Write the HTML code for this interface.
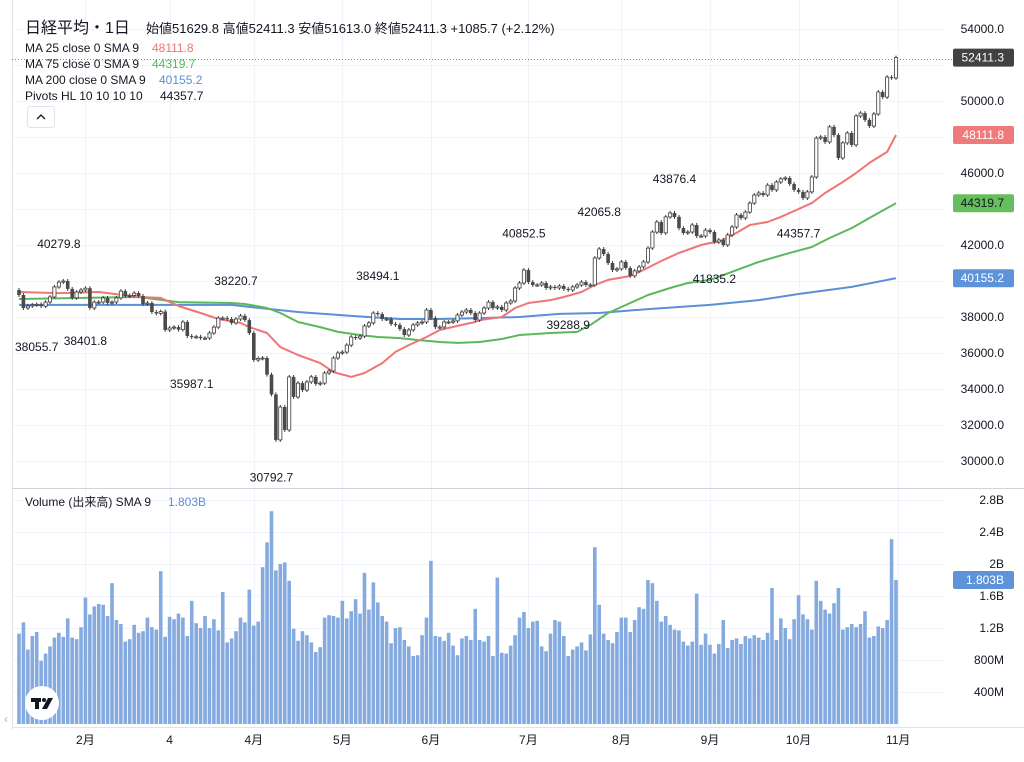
<!DOCTYPE html>
<html><head><meta charset="utf-8"><style>
html,body{margin:0;padding:0;background:#fff;}
body{width:1024px;height:757px;overflow:hidden;font-family:"Liberation Sans","Noto Sans CJK JP",sans-serif;}
svg text{font-family:"Liberation Sans","Noto Sans CJK JP",sans-serif;}
</style></head><body>
<svg id="chart" width="1024" height="757" viewBox="0 0 1024 757" xmlns="http://www.w3.org/2000/svg">
<rect x="0" y="0" width="1024" height="757" fill="#fff"/>
<line x1="12.5" y1="0" x2="12.5" y2="730" stroke="#e0e3eb"/>
<g id="grid"></g>
<line x1="12" y1="488.5" x2="1024" y2="488.5" stroke="#d1d4dc"/>
<line x1="12" y1="727.5" x2="1024" y2="727.5" stroke="#e0e3eb"/>
<g id="vol"></g>
<g id="ma"></g>
<g id="candles"></g>
<g id="pivots" font-size="12" fill="#131722"></g>
<line x1="12" y1="59.5" x2="953" y2="59.5" stroke="#888" stroke-dasharray="1,2"/>
<g id="axis" font-size="12" fill="#131722"></g>
<g id="vaxis" font-size="12" fill="#131722"></g>
<g id="xaxis" font-size="12" fill="#131722"></g>
<g id="badges" font-size="12"></g>
<text x="25" y="33" font-size="16" fill="#131722">日経平均・1日</text>
<text x="146" y="33" font-size="13" fill="#131722">始値51629.8  高値52411.3  安値51613.0  終値52411.3  +1085.7 (+2.12%)</text>
<text x="25" y="52" font-size="12" fill="#131722">MA 25 close 0 SMA 9 <tspan x="152" fill="#f07575">48111.8</tspan></text>
<text x="25" y="68" font-size="12" fill="#131722">MA 75 close 0 SMA 9 <tspan x="152" fill="#5cb85c">44319.7</tspan></text>
<text x="25" y="84" font-size="12" fill="#131722">MA 200 close 0 SMA 9 <tspan x="159" fill="#5b8fd8">40155.2</tspan></text>
<text x="25" y="100" font-size="12" fill="#131722">Pivots HL 10 10 10 10 <tspan x="160">44357.7</tspan></text>
<g><rect x="27.5" y="106.5" width="27" height="21" rx="3" fill="#fff" stroke="#e0e3eb"/><path d="M37 119 L41 115 L45 119" fill="none" stroke="#131722" stroke-width="1.3"/></g>
<text x="25" y="506" font-size="12" fill="#131722">Volume (出来高) SMA 9 <tspan x="168" fill="#5b8fd8">1.803B</tspan></text>
<g><circle cx="42" cy="703" r="17" fill="#fff"/><rect x="31" y="698" width="10" height="4" fill="#131722"/><rect x="35" y="698" width="4" height="11" fill="#131722"/><circle cx="44" cy="700" r="2" fill="#131722"/><path d="M48 698 L53 698 L47 709 L42 709 Z" fill="#131722"/></g>
<text x="4" y="723" font-size="12" fill="#b2b5be">‹</text>
</svg>
<script>
const closes=[39220,38500,38610,38670,38700,38600,38830,39110,39670,39940,40000,39560,39060,39390,39500,39600,
38500,38830,38830,39060,38780,38830,39060,39440,39170,39200,39330,39170,38720,38780,38280,38200,38300,
37280,37390,37440,37300,37720,36940,36890,36900,36830,36830,37110,37440,37940,37940,37890,37670,37890,38060,37830,37110,
35610,35700,35720,34800,33700,31170,33000,31720,34670,33560,34330,33940,34390,34670,34280,34330,34890,35000,35720,36000,
36050,36440,36890,36830,36940,37500,37670,38220,38160,37890,37890,37610,37560,37330,37000,37280,37560,37670,37720,38390,
37940,37440,37440,37720,37720,37780,38110,38280,38390,38220,37830,38220,38500,38830,38500,38560,38390,38780,38890,39610,39890,40610,
39940,39780,39780,39890,39610,39670,39610,39720,39560,39500,39670,39780,39940,39780,39780,41280,41780,41500,41000,40610,40670,
41060,40720,40280,40560,40780,41060,41830,42720,43280,42670,43560,43780,43560,42940,42670,42720,43110,42500,42500,42830,
42720,42170,42280,42000,42560,43000,43670,43500,43830,44330,44780,44890,44780,45330,45060,45500,45670,45720,45390,45060,44950,
44610,44950,45780,47940,48000,47720,48560,48110,46830,47670,48220,47560,49170,49330,48950,48610,49280,50500,50220,51330,51280,52411];
const firstOpen=39500;
const volumes=[1.13,1.27,0.93,1.10,1.15,0.79,0.88,0.97,1.08,1.14,1.09,1.32,1.08,1.06,1.21,1.58,1.37,1.47,1.50,1.49,1.35,1.76,1.30,1.25,1.03,1.06,1.24,1.14,1.16,1.33,1.21,1.18,1.91,1.09,1.34,1.31,1.38,1.33,1.10,1.54,1.26,1.20,1.35,1.20,1.31,1.17,1.65,1.02,1.07,1.16,1.33,1.27,1.68,1.23,1.28,1.96,2.27,2.66,1.92,2.00,2.02,1.79,1.19,1.04,1.16,1.11,1.02,
0.90,0.96,1.33,1.36,1.35,1.33,1.54,1.32,1.41,1.56,1.38,1.89,1.43,1.77,1.52,1.35,1.28,1.01,1.20,1.21,1.05,0.97,0.85,0.86,1.11,1.33,2.04,1.10,1.09,1.04,1.14,0.98,0.86,1.07,1.10,1.05,1.44,1.05,1.03,1.10,0.85,1.83,0.89,0.88,0.98,1.11,1.33,1.40,1.20,1.28,1.29,0.97,0.91,1.13,1.30,1.28,1.10,0.85,0.93,0.97,1.02,0.92,1.12,2.21,1.49,1.13,
1.05,1.01,1.15,1.33,1.33,1.15,1.30,1.46,1.44,1.80,1.76,1.54,1.28,1.35,1.24,1.18,1.17,1.03,0.98,1.03,1.63,0.99,1.13,0.99,0.88,1.00,1.30,0.95,1.05,1.07,1.00,1.10,1.07,1.11,1.08,1.05,1.14,1.70,1.05,1.32,1.20,1.06,1.31,1.61,1.37,1.31,1.18,1.79,1.54,1.43,1.38,1.51,1.70,1.18,1.21,1.25,1.21,1.25,1.41,1.08,1.10,1.22,1.20,1.30,2.31,1.80];
const ma25Idx=[0,9,18,27,32,36,41,45,50,52,56,59,63,68,71,75,78,82,85,88,92,95,100,103,104,109,112,115,120,123,127,130,133,138,141,145,149,154,156,158,162,165,169,172,175,179,182,186,189,192,196,198];
const ma25=[39390,39330,39390,39110,39060,38610,38220,37890,37670,37440,37110,36330,35890,35440,34940,34670,34890,35440,36060,36440,36890,37280,37560,37720,37830,38000,38500,38780,38940,39110,39390,39780,40060,40280,40610,41110,41560,42000,42110,42170,42670,43110,43280,43560,43890,44330,44890,45500,46000,46560,47170,48111.8];
const ma75Idx=[0,27,36,48,51,56,59,63,68,72,77,81,86,90,95,99,104,109,113,120,126,129,133,138,142,147,151,156,167,174,179,183,188,192,198];
const ma75=[39000,39110,38830,38780,38720,38500,38220,37720,37440,37170,37000,36890,36830,36720,36610,36560,36610,36780,37000,37110,37170,37560,38220,38780,39220,39610,39890,40060,41060,41560,41890,42390,42940,43500,44319.7];
const ma200Idx=[0,48,52,63,75,86,95,104,113,122,131,142,156,167,176,188,198];
const ma200=[38670,38670,38560,38280,38060,37890,37890,37940,38000,38170,38220,38440,38670,38940,39280,39670,40155.2];
const pivotHighIdx=[9,49,81,114,131,148];
const pivotHighs=[40279.8,38220.7,38494.1,40852.5,42065.8,43876.4];
const pivotLowIdx=[4,15,39,57,124,157,176];
const pivotLows=[38055.7,38401.8,35987.1,30792.7,39288.9,41835.2,44357.7];
const priceTicks=[54000,50000,46000,42000,38000,36000,34000,32000,30000];
const gridPrices=[54000,52000,50000,48000,46000,44000,42000,40000,38000,36000,34000,32000,30000];
const volTicks=[2.8,2.4,2,1.6,1.2,0.8,0.4];
const volTickLabels=["2.8B","2.4B","2B","1.6B","1.2B","800M","400M"];
const monthLabels=["2月","4","4月","5月","6月","7月","8月","9月","10月","11月"];
const monthIdx=[15,34,53,73,93,115,136,156,176,198.5];

const NS="http://www.w3.org/2000/svg";
const X0=19, X1=896, N=closes.length;
const step=(X1-X0)/(N-1);
function xOf(i){return X0+i*step;}
function yP(p){return 29+(54000-p)*0.018;}
function yV(v){return 724-v*80;}
function mk(tag,attrs,parent){const e=document.createElementNS(NS,tag);for(const k in attrs)e.setAttribute(k,attrs[k]);parent.appendChild(e);return e;}

const grid=document.getElementById('grid');
gridPrices.forEach(p=>{const l=mk('line',{x1:12,x2:945,y1:yP(p)+0.5,y2:yP(p)+0.5,stroke:'#f0f3fa'},grid);

});
volTicks.forEach(v=>{const l=mk('line',{x1:12,x2:945,y1:yV(v)+0.5,y2:yV(v)+0.5,stroke:'#f0f3fa'},grid);

});
monthIdx.forEach(i=>{const x=Math.round(xOf(i))+0.5;const l=mk('line',{x1:x,x2:x,y1:0,y2:727,stroke:'#f0f3fa'},grid);

});

const vol=document.getElementById('vol');
volumes.forEach((v,i)=>{const r=mk('rect',{x:(xOf(i)-1.8).toFixed(2),y:yV(v).toFixed(1),width:3.6,height:(v*80).toFixed(1),fill:'#84aadf'},vol);

});

const ma=document.getElementById('ma');
function line(idx,vals,color,name){const pts=idx.map((i,k)=>xOf(i).toFixed(1)+','+yP(vals[k]).toFixed(1)).join(' ');
const pl=mk('polyline',{points:pts,fill:'none',stroke:color,'stroke-width':2,'stroke-linejoin':'round'},ma);

}
line(ma200Idx,ma200,'#5b8fd8','ma200-line');
line(ma75Idx,ma75,'#5cb85c','ma75-line');
line(ma25Idx,ma25,'#f07575','ma25-line');

const cg=document.getElementById('candles');
closes.forEach((c,i)=>{const o=i===0?firstOpen:closes[i-1];const x=xOf(i);
const hi=Math.max(o,c)+110, lo=Math.min(o,c)-110;
const g=mk('g',{},cg);


mk('line',{x1:x.toFixed(1),x2:x.toFixed(1),y1:yP(hi).toFixed(1),y2:yP(lo).toFixed(1),stroke:'#3a3a3a','stroke-width':1},g);
const top=yP(Math.max(o,c)),bot=yP(Math.min(o,c));const h=Math.max(1,bot-top);
if(c>=o)mk('rect',{x:(x-1.6).toFixed(1),y:top.toFixed(1),width:3.2,height:h.toFixed(1),fill:'#fff',stroke:'#3a3a3a','stroke-width':0.8},g);
else mk('rect',{x:(x-1.8).toFixed(1),y:top.toFixed(1),width:3.6,height:h.toFixed(1),fill:'#4a4a4a'},g);});

const pv=document.getElementById('pivots');
pivotHighs.forEach((p,k)=>{const t=mk('text',{x:xOf(pivotHighIdx[k]).toFixed(1),y:(yP(p)-28).toFixed(1),'text-anchor':'middle'},pv);t.textContent=p.toFixed(1);

});
pivotLows.forEach((p,k)=>{const t=mk('text',{x:xOf(pivotLowIdx[k]).toFixed(1),y:(yP(p)+35).toFixed(1),'text-anchor':'middle'},pv);t.textContent=p.toFixed(1);

});

const ax=document.getElementById('axis');
priceTicks.forEach(p=>{const t=mk('text',{x:1004,y:(yP(p)+4).toFixed(1),'text-anchor':'end'},ax);t.textContent=p.toFixed(1);

});
const vax=document.getElementById('vaxis');
volTicks.forEach((v,k)=>{const t=mk('text',{x:1004,y:(yV(v)+4).toFixed(1),'text-anchor':'end'},vax);t.textContent=volTickLabels[k];

});
const xa=document.getElementById('xaxis');
monthLabels.forEach((m,k)=>{const t=mk('text',{x:xOf(monthIdx[k]).toFixed(1),y:744,'text-anchor':'middle'},xa);t.textContent=m;

});

const bd=document.getElementById('badges');
function badge(y,text,bg,fg,name){const g=mk('g',{},bd);


mk('rect',{x:953,y:(y-9).toFixed(1),width:61,height:18,rx:2,fill:bg},g);
const t=mk('text',{x:1004,y:(y+4).toFixed(1),'text-anchor':'end',fill:fg},g);t.textContent=text;}
badge(yP(closes[N-1]),'52411.3','#424242','#fff','last-price-badge');
badge(yP(ma25[ma25.length-1]),'48111.8','#ef7a7a','#fff','ma25-badge');
badge(yP(ma75[ma75.length-1]),'44319.7','#66bf5c','#131722','ma75-badge');
badge(yP(ma200[ma200.length-1]),'40155.2','#5e93da','#fff','ma200-badge');
badge(yV(volumes[volumes.length-1]),'1.803B','#5e93da','#fff','volume-badge');
</script>
</body></html>
